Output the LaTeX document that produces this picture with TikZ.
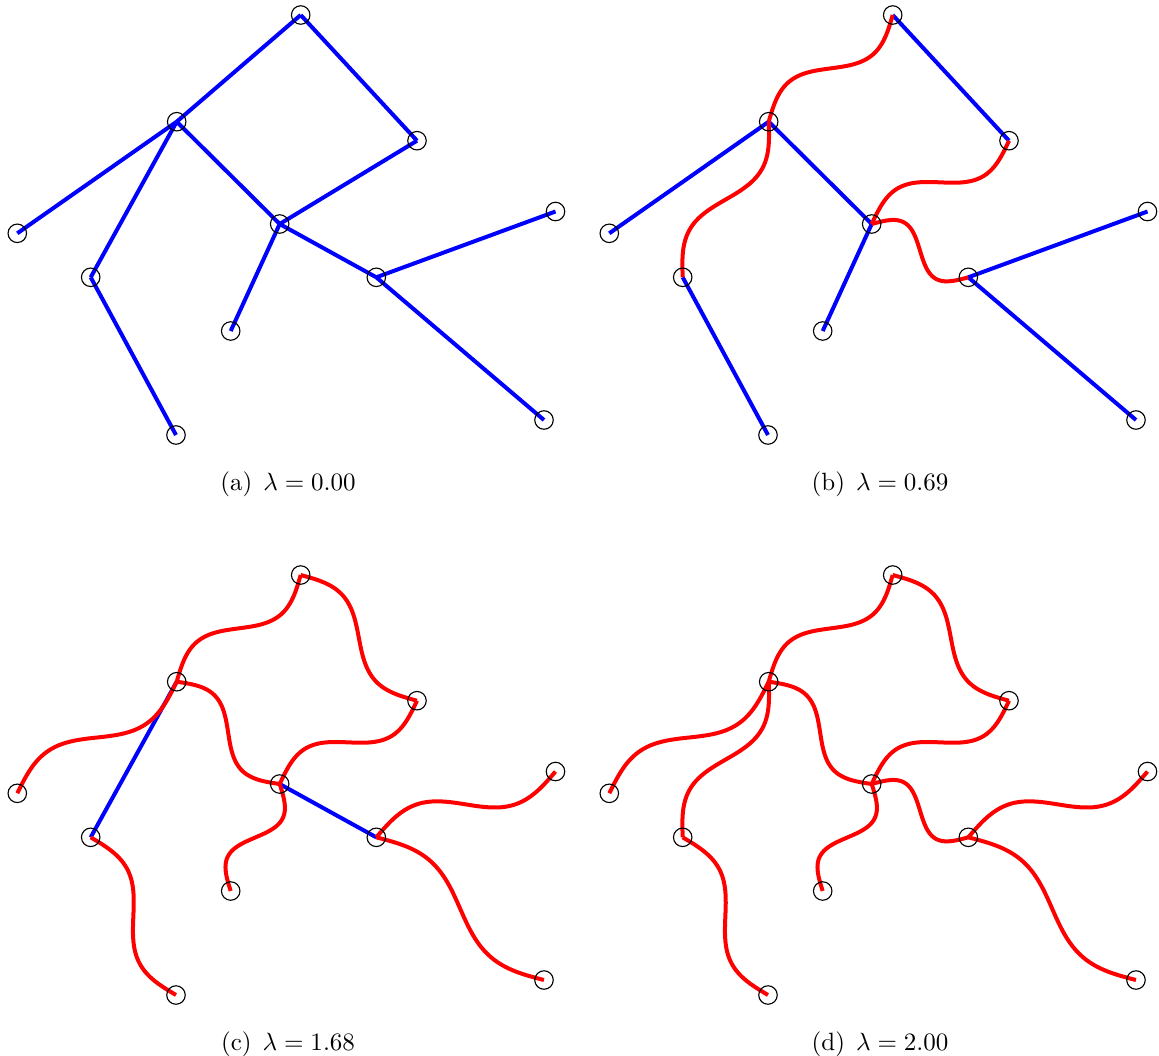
\documentclass[tikz,border=0pt]{standalone}
\usetikzlibrary{calc}
\pgfdeclarelayer{edges}
\pgfsetlayers{edges,main}

\tikzset{
  vtx/.style={circle, draw=black, line width=0.45pt, minimum size=7.4pt, inner sep=0pt},
  straightedge/.style={draw=blue, line width=1.6pt},
  wavyedge/.style={draw=red, line width=1.6pt},
  caption/.style={anchor=base, inner sep=0pt}
}

% amplitude (pt) of the single sine period laid along a wavy edge
\newcommand\waveamp{6.8}
\newcommand\straightlink[2]{\draw[straightedge] (#1.center) -- (#2.center);}
\newcommand\wavylink[2]{%
  \draw[wavyedge] let \p1=(#1.center), \p2=(#2.center),
    \n1={veclen(\x2-\x1,\y2-\y1)} in
    plot[variable=\t, domain=0:1, samples=49, smooth]
    ({\x1+(\x2-\x1)*\t-\waveamp*sin(360*\t)*(\y2-\y1)/\n1},
     {\y1+(\y2-\y1)*\t+\waveamp*sin(360*\t)*(\x2-\x1)/\n1});}

\begin{document}
\begin{tikzpicture}[x=0.4pt, y=-0.4pt]
\useasboundingbox (0,0) rectangle (1159,1055);

% the same tree in four panels
\foreach \pn/\ox/\oy in {a/0/0, b/592/0, c/0/560, d/592/560}{
  \foreach \v/\vx/\vy in {A/300.7/15, B/176.7/121.7, C/417/140.7, D/17.3/233.3,
                          E/279.7/224, F/555.5/211.5, G/90.7/277.3, H/376.3/277.3,
                          I/230.7/331, J/176/435, K/544/420}{
    \node[vtx] (\pn\v) at (\vx+\ox,\vy+\oy) {};
  }
}

\begin{pgfonlayer}{edges}
% (a) all edges straight
\foreach \u/\w in {A/B, A/C, B/D, B/G, B/E, C/E, E/I, E/H, H/F, H/K, G/J}{
  \straightlink{a\u}{a\w}
}
% (b)
\foreach \u/\w in {A/C, B/D, B/E, E/I, H/F, H/K, G/J}{
  \straightlink{b\u}{b\w}
}
\foreach \u/\w in {A/B, C/E, E/H, B/G}{
  \wavylink{b\u}{b\w}
}
% (c)
\foreach \u/\w in {B/G, E/H}{
  \straightlink{c\u}{c\w}
}
\foreach \u/\w in {A/B, A/C, B/D, B/E, C/E, E/I, H/F, H/K, G/J}{
  \wavylink{c\u}{c\w}
}
% (d) all edges wavy
\foreach \u/\w in {A/B, A/C, B/D, B/G, B/E, C/E, E/I, E/H, H/F, H/K, G/J}{
  \wavylink{d\u}{d\w}
}
\end{pgfonlayer}

% captions
\node[caption] (capa) at (288,490)  {(a)\hspace{4.4pt}$\lambda = 0.00$};
\node[caption] (capb) at (880,490)  {(b)\hspace{4.4pt}$\lambda = 0.69$};
\node[caption] (capc) at (288,1050) {(c)\hspace{4.4pt}$\lambda = 1.68$};
\node[caption] (capd) at (880,1050) {(d)\hspace{4.4pt}$\lambda = 2.00$};
\end{tikzpicture}
\end{document}
